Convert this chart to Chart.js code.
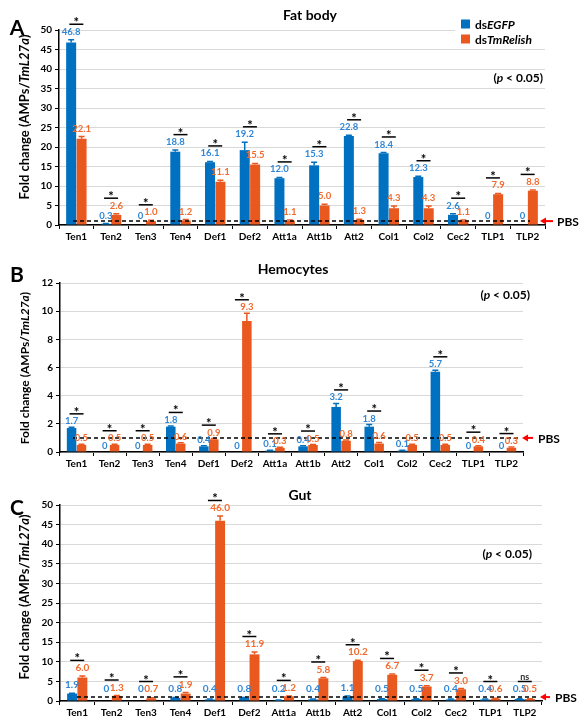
<!DOCTYPE html>
<html>
<head>
<meta charset="utf-8">
<script src="https://cdn.jsdelivr.net/npm/chart.js@4.4.0/dist/chart.umd.min.js"></script>
<style>
  html, body { margin: 0; padding: 0; background: #fff; }
  #wrap { position: relative; width: 585px; height: 728px; }
  .pane { position: absolute; left: 0; width: 585px; }
</style>
</head>
<body>
<div id="wrap">
  <div class="pane" style="top:0;height:245px"><canvas id="chartA"></canvas></div>
  <div class="pane" style="top:245px;height:227px"><canvas id="chartB"></canvas></div>
  <div class="pane" style="top:480px;height:241px"><canvas id="chartC"></canvas></div>
</div>
<script>
// categories
const genes = ['Ten1', 'Ten2', 'Ten3', 'Ten4', 'Def1', 'Def2', 'Att1a', 'Att1b', 'Att2', 'Col1', 'Col2', 'Cec2', 'TLP1', 'TLP2'];

// A - fat body
const fatEGFP      = [46.8, 0.3, 0, 18.8, 16.1, 19.2, 12.0, 15.3, 22.8, 18.4, 12.3, 2.6, 0, 0];
const fatRelish    = [22.1, 2.6, 1.0, 1.2, 11.1, 15.5, 1.1, 5.0, 1.3, 4.3, 4.3, 1.1, 7.9, 8.8];
const fatErrEGFP   = [0.7, 0.1, 0, 0.4, 0.2, 2.0, 0.2, 0.8, 0.2, 0.2, 0.2, 0.3, 0, 0];
const fatErrRelish = [0.6, 0.3, 0.2, 0.2, 0.4, 0.3, 0.2, 0.3, 0.2, 0.6, 0.6, 0.2, 0.2, 0.2];
const fatSig       = ['*', '*', '*', '*', '*', '*', '*', '*', '*', '*', '*', '*', '*', '*'];
const fatTicks     = [0, 5, 10, 15, 20, 25, 30, 35, 40, 45, 50];

// B - hemocytes
const hemoEGFP      = [1.7, 0, 0, 1.8, 0.4, 0, 0.1, 0.4, 3.2, 1.8, 0.1, 5.7, 0, 0];
const hemoRelish    = [0.5, 0.5, 0.5, 0.6, 0.9, 9.3, 0.3, 0.5, 0.8, 0.6, 0.5, 0.5, 0.4, 0.3];
const hemoErrEGFP   = [0.05, 0, 0, 0.05, 0.05, 0, 0.02, 0.05, 0.25, 0.15, 0.02, 0.1, 0, 0];
const hemoErrRelish = [0.05, 0.05, 0.05, 0.05, 0.05, 0.55, 0.03, 0.03, 0.05, 0.08, 0.05, 0.05, 0.05, 0.05];
const hemoSig       = ['*', '*', '*', '*', '*', '*', '*', '*', '*', '*', '', '*', '*', '*'];
const hemoTicks     = [0, 2, 4, 6, 8, 10, 12];

// C - gut
const gutEGFP      = [1.9, 0, 0, 0.8, 0.4, 0.8, 0.2, 0.4, 1.1, 0.5, 0.5, 0.4, 0.4, 0.5];
const gutRelish    = [6.0, 1.3, 0.7, 1.9, 46.0, 11.9, 1.2, 5.8, 10.2, 6.7, 3.7, 3.0, 0.6, 0.5];
const gutErrEGFP   = [0.1, 0, 0, 0.1, 0.1, 0.1, 0.05, 0.1, 0.2, 0.1, 0.1, 0.1, 0.1, 0.1];
const gutErrRelish = [0.4, 0.1, 0.1, 0.3, 1.2, 0.6, 0.1, 0.2, 0.2, 0.2, 0.2, 0.2, 0.1, 0.1];
const gutSig       = ['*', '*', '*', '*', '*', '*', '*', '*', '*', '*', '*', '*', '*', 'ns'];
const gutTicks     = [0, 5, 10, 15, 20, 25, 30, 35, 40, 45, 50];

const BLUE = '#0070C0';
const ORANGE = '#E9581F';
const BLUE_TXT = '#2E86D6';
const ORANGE_TXT = '#F26B2E';
const FONT = 'Lato, "Open Sans", sans-serif';

function fnt(size, italic) {
  return (italic ? 'italic ' : '') + 'bold ' + size + 'px ' + FONT;
}

// draws text made of [text, italic] parts
function richText(ctx, parts, x, y, align, size) {
  let w = 0;
  parts.forEach(pt => { ctx.font = fnt(size, pt[1]); w += ctx.measureText(pt[0]).width; });
  let cx = align === 'center' ? x - w / 2 : (align === 'right' ? x - w : x);
  ctx.textAlign = 'left';
  parts.forEach(pt => {
    ctx.font = fnt(size, pt[1]);
    ctx.fillText(pt[0], cx, y);
    cx += ctx.measureText(pt[0]).width;
  });
}

function fmt(v) {
  return v === 0 ? '0' : v.toFixed(1);
}

// labels, error bars, significance marks, PBS line etc.
function makeAnnot(p) {
  return {
    id: 'annot',
    afterDatasetsDraw(chart) {
      const ctx = chart.ctx;
      const ys = chart.scales.y;
      const area = chart.chartArea;
      const zeroY = ys.getPixelForValue(0);
      const metas = [chart.getDatasetMeta(0), chart.getDatasetMeta(1)];
      const cols = [BLUE, ORANGE];
      const txtCols = [BLUE_TXT, ORANGE_TXT];

      ctx.save();
      // error bars
      for (let d = 0; d < 2; d++) {
        ctx.strokeStyle = cols[d];
        ctx.lineWidth = 1.5;
        metas[d].data.forEach((bar, i) => {
          const e = p.errs[d][i];
          if (!e) return;
          const v = p.vals[d][i];
          const y1 = ys.getPixelForValue(v);
          const y2 = ys.getPixelForValue(v + e);
          ctx.beginPath();
          ctx.moveTo(bar.x, y1);
          ctx.lineTo(bar.x, y2);
          ctx.moveTo(bar.x - 3, y2);
          ctx.lineTo(bar.x + 3, y2);
          ctx.stroke();
        });
      }

      // PBS dashed line at 1
      const pbsY = ys.getPixelForValue(1);
      ctx.strokeStyle = '#000';
      ctx.lineWidth = 1.5;
      ctx.setLineDash([4, 3]);
      ctx.beginPath();
      ctx.moveTo(area.left + p.dash[0], pbsY);
      ctx.lineTo(area.right - p.dash[1], pbsY);
      ctx.stroke();
      ctx.setLineDash([]);

      // value labels
      ctx.textBaseline = 'middle';
      const labY = [[], []];
      for (let d = 0; d < 2; d++) {
        ctx.fillStyle = txtCols[d];
        ctx.font = fnt(p.labSize, false);
        ctx.textAlign = 'center';
        metas[d].data.forEach((bar, i) => {
          const v = p.vals[d][i];
          const top = ys.getPixelForValue(v + p.errs[d][i]);
          const y = Math.min(top - p.labOff, zeroY - p.labMin);
          labY[d][i] = y;
          ctx.fillText(fmt(v), bar.x, y);
        });
      }

      // significance marks
      ctx.fillStyle = '#000';
      ctx.strokeStyle = '#000';
      metas[0].data.forEach((bar, i) => {
        const s = p.sig[i];
        if (!s) return;
        const cx = (bar.x + metas[1].data[i].x) / 2;
        const ly = Math.min(labY[0][i], labY[1][i]) - 7.5;
        ctx.lineWidth = 1.5;
        ctx.beginPath();
        ctx.moveTo(cx - 7, ly);
        ctx.lineTo(cx + 7, ly);
        ctx.stroke();
        ctx.textAlign = 'center';
        ctx.textBaseline = 'alphabetic';
        if (s === '*') {
          ctx.font = fnt(13, false);
          ctx.fillText('*', cx, ly + 3);
        } else {
          ctx.font = 'bold 9px ' + FONT;
          ctx.fillStyle = '#333';
          ctx.fillText(s, cx, ly - 2);
          ctx.fillStyle = '#000';
        }
      });
      ctx.restore();
    },
    afterDraw(chart) {
      const ctx = chart.ctx;
      const ys = chart.scales.y;
      const area = chart.chartArea;
      ctx.save();
      ctx.fillStyle = '#000';
      ctx.textBaseline = 'middle';

      // panel letter and title
      ctx.font = 'bold 21px ' + FONT;
      ctx.textAlign = 'center';
      ctx.fillText(p.letter, p.letterPos[0], p.letterPos[1]);
      ctx.font = 'bold 14px ' + FONT;
      ctx.fillText(p.title, p.titlePos[0], p.titlePos[1]);

      // y axis title
      ctx.save();
      ctx.translate(25, p.yTitleY);
      ctx.rotate(-Math.PI / 2);
      richText(ctx, [['Fold change (AMPs/', false], ['TmL27a', true], [')', false]], 0, 0, 'center', p.yTitleSize);
      ctx.restore();

      // (p < 0.05)
      richText(ctx, [['(', false], ['p', true], [' < 0.05)', false]], p.pPos[0], p.pPos[1], 'right', 12);

      // PBS arrow and label
      const pbsY = ys.getPixelForValue(1);
      ctx.strokeStyle = '#FF0000';
      ctx.fillStyle = '#FF0000';
      ctx.lineWidth = 2;
      ctx.beginPath();
      ctx.moveTo(p.arrow[1], pbsY);
      ctx.lineTo(p.arrow[0] + 5, pbsY);
      ctx.stroke();
      ctx.beginPath();
      ctx.moveTo(p.arrow[0], pbsY);
      ctx.lineTo(p.arrow[0] + 6, pbsY - 3.5);
      ctx.lineTo(p.arrow[0] + 6, pbsY + 3.5);
      ctx.closePath();
      ctx.fill();
      ctx.fillStyle = '#000';
      ctx.font = 'bold 12px ' + FONT;
      ctx.textAlign = 'left';
      ctx.fillText('PBS', p.pbsX, pbsY + 1);

      // legend (panel A only)
      if (p.legend) {
        ctx.fillStyle = '#fff';
        ctx.fillRect(455, 15, area.right - 455 + 2, 31);
        const items = [
          [BLUE, [['ds', false], ['EGFP', true]]],
          [ORANGE, [['ds', false], ['TmRelish', true]]]
        ];
        items.forEach((it, k) => {
          const y = 24 + k * 15;
          ctx.fillStyle = it[0];
          ctx.fillRect(461, y - 4.5, 9, 9);
          ctx.fillStyle = '#000';
          richText(ctx, it[1], 475, y + 1, 'left', 12);
        });
      }
      ctx.restore();
    }
  };
}

function makeChart(id, p) {
  return new Chart(document.getElementById(id), {
    type: 'bar',
    data: {
      labels: genes,
      datasets: [
        { label: 'dsEGFP', data: p.vals[0], backgroundColor: BLUE, categoryPercentage: 0.6, barPercentage: 0.96 },
        { label: 'dsTmRelish', data: p.vals[1], backgroundColor: ORANGE, categoryPercentage: 0.6, barPercentage: 0.96 }
      ]
    },
    options: {
      responsive: true,
      maintainAspectRatio: false,
      animation: false,
      layout: { padding: { top: p.pad[0], right: p.pad[1], bottom: 0, left: p.pad[2] } },
      plugins: { legend: { display: false }, tooltip: { enabled: false } },
      scales: {
        x: {
          grid: { offset: true, drawOnChartArea: false, drawTicks: true, tickLength: 4, color: '#000', lineWidth: 1 },
          border: { color: '#000', width: 1.5 },
          ticks: { color: '#000', font: { family: FONT, size: 10, weight: 'bold' }, padding: 2, maxRotation: 0, autoSkip: false },
          afterFit: s => { s.height = 20; }
        },
        y: {
          min: 0,
          max: p.ticks[p.ticks.length - 1],
          afterBuildTicks: s => { s.ticks = p.ticks.map(v => ({ value: v })); },
          grid: { color: '#d9d9d9', lineWidth: 1, tickColor: '#000', tickLength: 4 },
          border: { color: '#000', width: 1.5 },
          ticks: { color: '#000', font: { family: FONT, size: 10, weight: 'bold' }, padding: 3 },
          afterFit: s => { s.width = 46; }
        }
      }
    },
    plugins: [makeAnnot(p)]
  });
}

makeChart('chartA', {
  vals: [fatEGFP, fatRelish], errs: [fatErrEGFP, fatErrRelish], sig: fatSig, ticks: fatTicks,
  pad: [30, 40, 13], letter: 'A', letterPos: [17, 28], title: 'Fat body', titlePos: [310, 15],
  yTitleY: 117, yTitleSize: 13, pPos: [543, 78], labSize: 9.5, labOff: 8, labMin: 9,
  dash: [14, 15], arrow: [540, 553], pbsX: 557, legend: true
});

makeChart('chartB', {
  vals: [hemoEGFP, hemoRelish], errs: [hemoErrEGFP, hemoErrRelish], sig: hemoSig, ticks: hemoTicks,
  pad: [38, 62, 14], letter: 'B', letterPos: [17, 30], title: 'Hemocytes', titlePos: [293, 24],
  yTitleY: 123, yTitleSize: 12, pPos: [530, 50], labSize: 9.5, labOff: 6, labMin: 6,
  dash: [13, 3], arrow: [522, 533], pbsX: 538, legend: false
});

makeChart('chartC', {
  vals: [gutEGFP, gutRelish], errs: [gutErrEGFP, gutErrRelish], sig: gutSig, ticks: gutTicks,
  pad: [25, 43, 14], letter: 'C', letterPos: [17, 28], title: 'Gut', titlePos: [300, 15],
  yTitleY: 117, yTitleSize: 13, pPos: [532, 74], labSize: 10, labOff: 8, labMin: 12,
  dash: [17, 5], arrow: [540, 550], pbsX: 555, legend: false
});
</script>
</body>
</html>
